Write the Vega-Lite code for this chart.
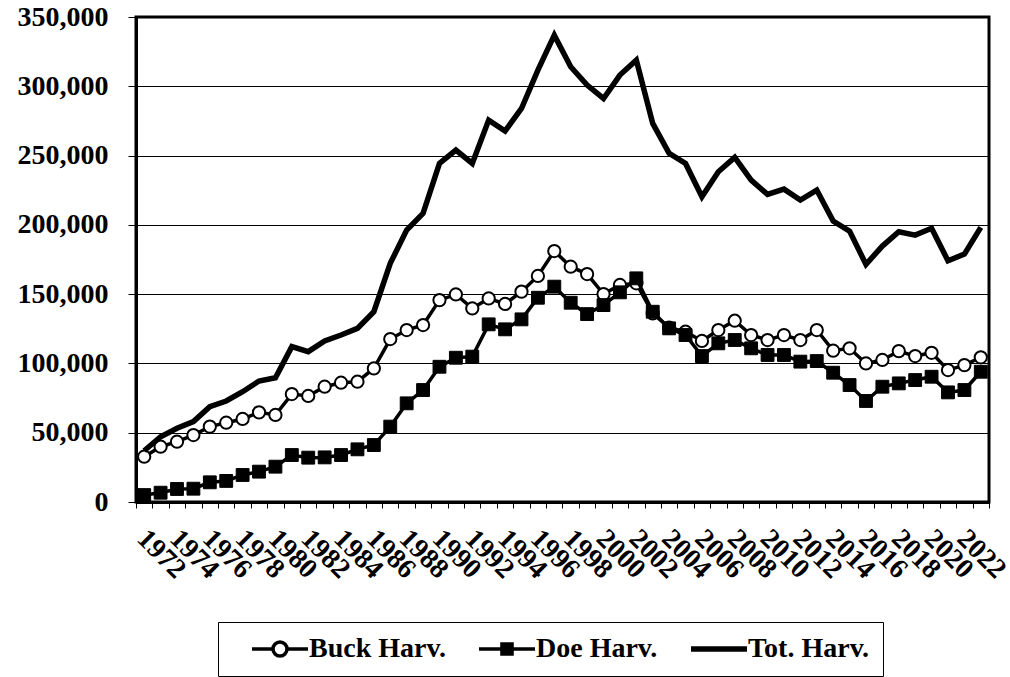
{
  "$schema": "https://vega.github.io/schema/vega-lite/v6.json",
  "autosize": {"type": "none"},
  "width": 853,
  "height": 485,
  "padding": {"left": 136, "top": 17, "right": 21, "bottom": 175},
  "background": "white",
  "config": {
    "font": "Liberation Serif",
    "view": {"stroke": "#000", "strokeWidth": 3},
    "axis": {
      "labelFont": "Liberation Serif",
      "labelFontSize": 28,
      "labelFontWeight": "bold",
      "labelColor": "#000",
      "domainColor": "#000",
      "domainWidth": 3,
      "tickColor": "#000",
      "tickWidth": 1,
      "gridColor": "#000",
      "gridWidth": 1,
      "gridOpacity": 1,
      "title": null
    }
  },
  "data": {
    "values": [
      {"year": 1971, "buck": 32700, "doe": 5000, "tot": 37000},
      {"year": 1972, "buck": 39900, "doe": 6700, "tot": 47100},
      {"year": 1973, "buck": 43500, "doe": 9400, "tot": 53200},
      {"year": 1974, "buck": 48300, "doe": 9600, "tot": 58000},
      {"year": 1975, "buck": 54400, "doe": 14200, "tot": 68800},
      {"year": 1976, "buck": 57200, "doe": 15200, "tot": 72900},
      {"year": 1977, "buck": 59900, "doe": 19500, "tot": 79600},
      {"year": 1978, "buck": 64700, "doe": 21900, "tot": 87300},
      {"year": 1979, "buck": 62800, "doe": 25500, "tot": 89700},
      {"year": 1980, "buck": 77900, "doe": 33900, "tot": 112100},
      {"year": 1981, "buck": 76500, "doe": 32000, "tot": 108500},
      {"year": 1982, "buck": 83200, "doe": 32200, "tot": 116200},
      {"year": 1983, "buck": 86100, "doe": 33900, "tot": 120500},
      {"year": 1984, "buck": 86800, "doe": 38000, "tot": 125300},
      {"year": 1985, "buck": 96400, "doe": 41100, "tot": 137300},
      {"year": 1986, "buck": 117600, "doe": 54400, "tot": 172200},
      {"year": 1987, "buck": 124100, "doe": 71200, "tot": 196200},
      {"year": 1988, "buck": 127700, "doe": 80800, "tot": 208300},
      {"year": 1989, "buck": 145700, "doe": 97600, "tot": 244300},
      {"year": 1990, "buck": 149800, "doe": 104100, "tot": 254000},
      {"year": 1991, "buck": 139700, "doe": 104900, "tot": 244300},
      {"year": 1992, "buck": 146900, "doe": 128200, "tot": 275600},
      {"year": 1993, "buck": 142900, "doe": 124600, "tot": 267700},
      {"year": 1994, "buck": 151800, "doe": 131800, "tot": 284000},
      {"year": 1995, "buck": 163100, "doe": 147400, "tot": 311700},
      {"year": 1996, "buck": 181100, "doe": 155400, "tot": 336900},
      {"year": 1997, "buck": 169800, "doe": 143800, "tot": 314100},
      {"year": 1998, "buck": 164500, "doe": 135600, "tot": 300900},
      {"year": 1999, "buck": 150100, "doe": 142100, "tot": 291200},
      {"year": 2000, "buck": 156600, "doe": 151300, "tot": 308100},
      {"year": 2001, "buck": 157800, "doe": 161400, "tot": 318900},
      {"year": 2002, "buck": 136100, "doe": 137300, "tot": 273200},
      {"year": 2003, "buck": 125800, "doe": 125300, "tot": 251600},
      {"year": 2004, "buck": 122900, "doe": 120500, "tot": 244300},
      {"year": 2005, "buck": 116200, "doe": 105300, "tot": 220300},
      {"year": 2006, "buck": 124100, "doe": 114500, "tot": 238300},
      {"year": 2007, "buck": 130800, "doe": 116900, "tot": 248700},
      {"year": 2008, "buck": 120500, "doe": 110900, "tot": 232300},
      {"year": 2009, "buck": 116900, "doe": 106100, "tot": 222000},
      {"year": 2010, "buck": 120500, "doe": 106100, "tot": 225800},
      {"year": 2011, "buck": 116900, "doe": 101300, "tot": 217900},
      {"year": 2012, "buck": 124100, "doe": 101700, "tot": 225100},
      {"year": 2013, "buck": 109200, "doe": 93300, "tot": 202700},
      {"year": 2014, "buck": 110900, "doe": 84400, "tot": 195500},
      {"year": 2015, "buck": 100000, "doe": 72900, "tot": 171500},
      {"year": 2016, "buck": 102500, "doe": 83200, "tot": 184700},
      {"year": 2017, "buck": 108900, "doe": 85600, "tot": 195000},
      {"year": 2018, "buck": 105300, "doe": 88000, "tot": 192600},
      {"year": 2019, "buck": 107700, "doe": 90400, "tot": 197500},
      {"year": 2020, "buck": 95200, "doe": 79100, "tot": 174100},
      {"year": 2021, "buck": 98800, "doe": 80800, "tot": 178900},
      {"year": 2022, "buck": 104400, "doe": 94000, "tot": 198200}
    ]
  },
  "encoding": {
    "x": {
      "field": "year",
      "type": "ordinal",
      "bandPosition": 0.5,
      "scale": {"type": "band", "paddingInner": 0, "paddingOuter": 0},
      "axis": {
        "tickBand": "extent",
        "tickSize": 6,
        "labelAngle": 45,
        "labelAlign": "center",
        "labelBaseline": "middle",
        "labelPadding": 46,
        "labelOverlap": false,
        "labelExpr": "datum.value % 2 == 0 ? datum.label : ''",
        "grid": false,
        "title": null
      }
    }
  },
  "layer": [
    {
      "mark": {"type": "line", "strokeWidth": 3.5},
      "encoding": {
        "y": {
          "field": "buck",
          "type": "quantitative",
          "scale": {"domain": [0, 350000]},
          "axis": {
            "values": [0, 50000, 100000, 150000, 200000, 250000, 300000, 350000],
            "format": ",.0f",
            "tickSize": 8,
            "labelPadding": 20,
            "grid": true,
            "title": null
          }
        },
        "color": {
          "datum": "Buck Harv.",
          "scale": {
            "domain": ["Buck Harv.", "Doe Harv.", "Tot. Harv."],
            "range": ["#000", "#000", "#000"]
          },
          "legend": {
            "orient": "none",
            "legendX": 82,
            "legendY": 605,
            "direction": "horizontal",
            "columns": 3,
            "title": null,
            "padding": 13,
            "strokeColor": "#000",
            "fillColor": "#fff",
            "columnPadding": 12,
            "labelFont": "Liberation Serif",
            "labelFontSize": 28,
            "labelFontWeight": "bold",
            "labelColor": "#000",
            "labelOffset": 50,
            "labelLimit": 300,
            "symbolSize": 784,
            "symbolStrokeWidth": 3.5,
            "encode": {
              "symbols": {
                "update": {
                  "shape": {"signal": "datum.value == 'Buck Harv.' ? 'M0.5,0H2M3,0H4.5M3,0A0.5,0.5 0 1 1 2,0A0.5,0.5 0 1 1 3,0' : datum.value == 'Doe Harv.' ? 'M0.5,0H4.5M2.14,-0.36H2.86V0.36H2.14Z' : 'M0.5,0H4.5'"},
                  "fill": {"signal": "datum.value == 'Buck Harv.' ? '#fff' : datum.value == 'Doe Harv.' ? '#000' : 'transparent'"},
                  "stroke": {"value": "#000"},
                  "strokeWidth": {"signal": "datum.value == 'Tot. Harv.' ? 5.5 : 3.5"},
                  "opacity": {"value": 1}
                }
              }
            }
          }
        }
      }
    },
    {
      "mark": {"type": "point", "shape": "circle", "filled": true, "fill": "#fff", "stroke": "#000", "strokeWidth": 2, "size": 150, "opacity": 1},
      "encoding": {
        "y": {"field": "buck", "type": "quantitative", "title": null}
      }
    },
    {
      "mark": {"type": "line", "strokeWidth": 3.5},
      "encoding": {
        "y": {"field": "doe", "type": "quantitative", "title": null},
        "color": {"datum": "Doe Harv."}
      }
    },
    {
      "mark": {"type": "square", "filled": true, "fill": "#000", "stroke": "#000", "strokeWidth": 1, "size": 165, "opacity": 1},
      "encoding": {
        "y": {"field": "doe", "type": "quantitative", "title": null}
      }
    },
    {
      "mark": {"type": "line", "strokeWidth": 5.5},
      "encoding": {
        "y": {"field": "tot", "type": "quantitative", "title": null},
        "color": {"datum": "Tot. Harv."}
      }
    }
  ]
}
